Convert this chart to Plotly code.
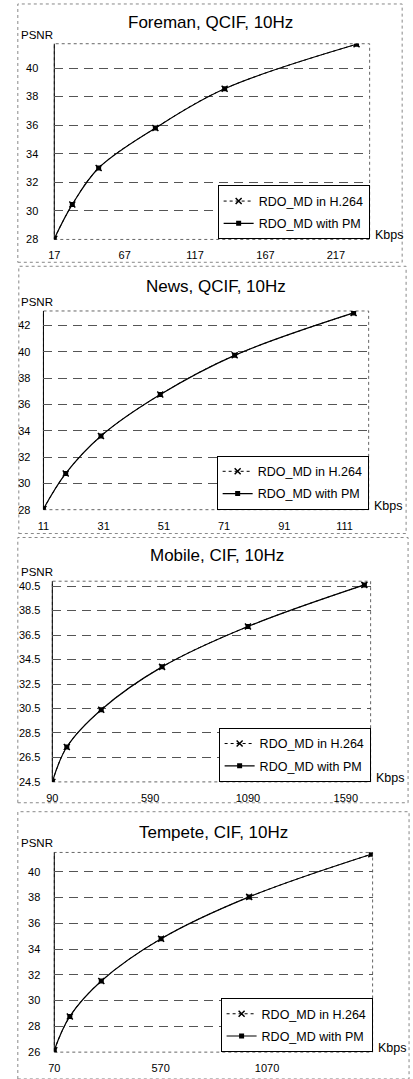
import plotly.graph_objects as go

# ---------------- data ----------------
titles = ["Foreman, QCIF, 10Hz", "News, QCIF, 10Hz", "Mobile, CIF, 10Hz", "Tempete, CIF, 10Hz"]
series_names = ["RDO_MD in H.264", "RDO_MD with PM"]

foreman_kbps = [17, 29.8, 48.5, 88.8, 138, 231.7]
foreman_h264 = [28.05, 30.45, 33.0, 35.8, 38.55, 41.66]
foreman_pm = [28.05, 30.45, 33.0, 35.8, 38.55, 41.66]

news_kbps = [11, 18.4, 30.1, 49.8, 74.5, 114]
news_h264 = [28.05, 30.75, 33.6, 36.75, 39.73, 42.95]
news_pm = [28.05, 30.75, 33.6, 36.75, 39.73, 42.95]

mobile_kbps = [90, 164, 340, 651, 1090, 1685]
mobile_h264 = [24.5, 27.35, 30.4, 33.9, 37.2, 40.6]
mobile_pm = [24.5, 27.35, 30.4, 33.9, 37.2, 40.6]

tempete_kbps = [70, 143, 291, 572, 986, 1560]
tempete_h264 = [26.15, 28.77, 31.52, 34.8, 38.05, 41.36]
tempete_pm = [26.15, 28.77, 31.52, 34.8, 38.05, 41.36]

# axis settings: x range, x tick start/step, y range, y tick start/step
x_ranges = [[17, 241], [11, 119], [90, 1717], [70, 1566]]
x_ticks = [(17, 50), (11, 20), (90, 500), (70, 500)]
y_ranges = [[28, 41.7], [28, 43.1], [24.5, 40.9], [26, 41.5]]
y_ticks = [(28, 2), (28, 2), (24.5, 2), (26, 2)]
y_formats = ["d", "d", ".1f", "d"]

# ---------------- layout geometry (pixels) ----------------
W, H = 413, 1079
plot_px = [(49, 369, 43, 240), (38, 368, 312, 512), (47, 370, 584, 786), (49, 372, 857, 1058)]
box_px = [(12, 3, 402, 263), (13, 267, 406, 536), (12, 540, 408, 807), (12, 816, 409, 1085)]
title_y = [22, 287, 558, 837]
title_x = [208, 213, 214, 211]
ylab_standoff = [15, 12, 11, 13]

FONT = "Liberation Sans, Arial, sans-serif"

def fx(p):
    return p / W

def fy(p):
    return 1 - p / H

data_sets = [
    (foreman_kbps, foreman_h264, foreman_pm),
    (news_kbps, news_h264, news_pm),
    (mobile_kbps, mobile_h264, mobile_pm),
    (tempete_kbps, tempete_h264, tempete_pm),
]

fig = go.Figure()
shapes = []
annotations = []

for i, (xs, h264, pm) in enumerate(data_sets):
    n = "" if i == 0 else str(i + 1)
    xa, ya = "x" + n, "y" + n
    leg = "legend" + n
    l, r, t, b = plot_px[i]

    fig.add_trace(go.Scatter(
        x=xs, y=h264, name=series_names[0], xaxis=xa, yaxis=ya, legend=leg,
        legendgroup="a%d" % i, mode="lines+markers",
        line=dict(color="black", width=1, dash="dot", shape="spline"),
        marker=dict(symbol="x-thin", size=6, color="black", line=dict(width=1.5, color="black")),
    ))
    fig.add_trace(go.Scatter(
        x=xs, y=pm, name=series_names[1], xaxis=xa, yaxis=ya, legend=leg,
        legendgroup="b%d" % i, mode="lines+markers",
        line=dict(color="black", width=1.2, shape="spline"),
        marker=dict(symbol="square", size=5, color="black"),
    ))

    fig.update_layout(**{
        "xaxis" + n: dict(
            domain=[fx(l), fx(r)], range=x_ranges[i], anchor=ya,
            tickmode="linear", tick0=x_ticks[i][0], dtick=x_ticks[i][1],
            showgrid=False, zeroline=False, showline=False,
            ticks="", ticklabelstandoff=8,
            tickfont=dict(family=FONT, size=11, color="black"),
        ),
        "yaxis" + n: dict(
            domain=[fy(b), fy(t)], range=y_ranges[i], anchor=xa,
            tickmode="linear", tick0=y_ticks[i][0], dtick=y_ticks[i][1],
            tickformat=y_formats[i],
            showgrid=True, gridcolor="#555555", gridwidth=1, griddash="9px,6px",
            zeroline=False, showline=False, ticks="", ticklabelstandoff=ylab_standoff[i],
            tickfont=dict(family=FONT, size=11, color="black"),
        ),
        leg: dict(
            x=fx(r), y=fy(b), xanchor="right", yanchor="bottom",
            xref="paper", yref="paper",
            bgcolor="white", bordercolor="black", borderwidth=1,
            font=dict(family=FONT, size=12.5, color="black"),
            tracegroupgap=3, itemwidth=30,
        ),
    })

    # outer panel frame
    bx0, by0, bx1, by1 = box_px[i]
    shapes.append(dict(type="rect", xref="paper", yref="paper",
                       x0=fx(bx0), x1=fx(bx1), y0=fy(by1), y1=fy(by0),
                       line=dict(color="#888888", width=1, dash="dot"), layer="below"))
    # plot area frame (dotted) and solid left axis
    shapes.append(dict(type="rect", xref="paper", yref="paper",
                       x0=fx(l), x1=fx(r), y0=fy(b), y1=fy(t),
                       line=dict(color="#666666", width=1, dash="dot"), layer="below"))
    shapes.append(dict(type="line", xref="paper", yref="paper",
                       x0=fx(l), x1=fx(l), y0=fy(b), y1=fy(t),
                       line=dict(color="black", width=1), layer="below"))

    annotations.append(dict(text=titles[i], x=fx(title_x[i]), y=fy(title_y[i]),
                            xref="paper", yref="paper", showarrow=False,
                            xanchor="center", yanchor="middle",
                            font=dict(family=FONT, size=17, color="black")))
    annotations.append(dict(text="PSNR", x=fx(13), y=fy(t - 9),
                            xref="paper", yref="paper", showarrow=False,
                            xanchor="left", yanchor="middle",
                            font=dict(family=FONT, size=11.5, color="black")))
    annotations.append(dict(text="Kbps", x=fx(r + 3), y=fy(b - 4),
                            xref="paper", yref="paper", showarrow=False,
                            xanchor="left", yanchor="middle",
                            font=dict(family=FONT, size=12.5, color="black")))

fig.update_layout(
    width=W, height=H, autosize=False,
    margin=dict(l=0, r=0, t=0, b=0, pad=0),
    paper_bgcolor="white", plot_bgcolor="white",
    shapes=shapes, annotations=annotations,
    font=dict(family=FONT, color="black"),
)

fig.write_html(
    "out.html",
    config=dict(displayModeBar=False),
    post_script="document.body.style.margin='0';document.body.style.padding='0';"
                "document.body.style.overflow='hidden';",
)
